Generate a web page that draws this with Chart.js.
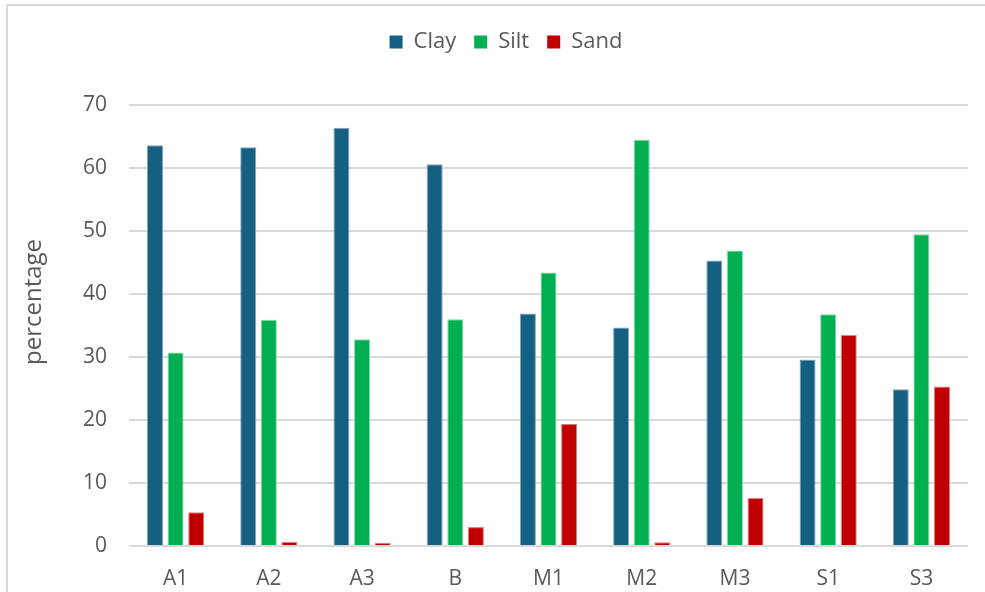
<!DOCTYPE html>
<html>
<head>
<meta charset="utf-8">
<script src="https://cdn.jsdelivr.net/npm/chart.js@4/dist/chart.umd.min.js"></script>
<style>
  html, body { margin: 0; padding: 0; background: #fff; overflow: hidden; }
  #frame {
    position: absolute; left: 6px; top: 4px;
    width: 1200px; height: 800px;
    border: 2px solid #d9d9d9; box-sizing: border-box;
  }
  #wrap { position: absolute; left: 0; top: 0; width: 985px; height: 592px; }
</style>
</head>
<body>
<div id="frame"></div>
<div id="wrap"><canvas id="chart" width="985" height="592"></canvas></div>
<script>
// Soil texture fractions per sample
const samples = ['A1', 'A2', 'A3', 'B', 'M1', 'M2', 'M3', 'S1', 'S3'];
const clay = [63.6, 63.3, 66.4, 60.6, 36.9, 34.7, 45.3, 29.6, 24.9];
const silt = [30.7, 35.9, 32.8, 36.0, 43.4, 64.5, 46.9, 36.8, 49.5];
const sand = [5.35, 0.65, 0.5, 3.0, 19.4, 0.6, 7.6, 33.5, 25.3];
const yTicks = [0, 10, 20, 30, 40, 50, 60, 70];
const yTitle = 'percentage';

const textColor = '#595959';
const fontFamily = '"Open Sans", Roboto, sans-serif';

function series(label, data, fill, edge) {
  return {
    label, data,
    backgroundColor: fill,
    borderColor: edge,
    borderWidth: 1,
    categoryPercentage: 0.663,
    barPercentage: 0.777
  };
}

// Fixed band for the legend, nudged right so it sits over the plot
const legendBand = {
  id: 'legendBand',
  afterInit(chart) {
    const lg = chart.legend;
    if (!lg) return;
    const fit = lg.fit.bind(lg);
    lg.fit = function () {
      fit();
      this.height = 92;
      if (this.minSize) this.minSize.height = 92;
    };
  },
  afterLayout(chart) {
    const lg = chart.legend;
    if (!lg) return;
    lg.left += 22;
    lg.right += 22;
  }
};

// Vertical axis title, drawn a little above the plot's middle
const axisTitle = {
  id: 'axisTitle',
  afterDraw(chart) {
    const ctx = chart.ctx;
    ctx.save();
    ctx.translate(34, 302);
    ctx.rotate(-Math.PI / 2);
    ctx.font = '24px ' + fontFamily;
    ctx.fillStyle = textColor;
    ctx.textAlign = 'center';
    ctx.textBaseline = 'middle';
    ctx.fillText(yTitle, 0, 0);
    ctx.restore();
  }
};

new Chart(document.getElementById('chart'), {
  type: 'bar',
  data: {
    labels: samples,
    datasets: [
      series('Clay', clay, '#156082', '#7fa6b9'),
      series('Silt', silt, '#00B050', '#7fd8a8'),
      series('Sand', sand, '#C00000', '#e08080')
    ]
  },
  plugins: [legendBand, axisTitle],
  options: {
    responsive: false,
    animation: false,
    devicePixelRatio: 1,
    layout: { padding: { left: 0, right: 17, top: 13, bottom: 0 } },
    plugins: {
      tooltip: { enabled: false },
      legend: {
        position: 'top',
        labels: {
          color: textColor,
          font: { family: fontFamily, size: 22 },
          boxWidth: 13,
          boxHeight: 13,
          padding: 18,
          generateLabels(chart) {
            return chart.data.datasets.map((ds, i) => ({
              text: ds.label,
              fillStyle: ds.backgroundColor,
              strokeStyle: ds.backgroundColor,
              lineWidth: 0,
              fontColor: textColor,
              datasetIndex: i,
              hidden: false
            }));
          }
        }
      }
    },
    scales: {
      x: {
        grid: { display: false },
        border: { display: false },
        ticks: {
          color: textColor,
          font: { family: fontFamily, size: 21 },
          padding: 12
        },
        afterFit(scale) { scale.height = 46; }
      },
      y: {
        min: 0,
        max: 70,
        afterBuildTicks(scale) { scale.ticks = yTicks.map(v => ({ value: v })); },
        grid: { color: '#d9d9d9', lineWidth: 2, drawTicks: false },
        border: { display: false },
        ticks: {
          color: textColor,
          font: { family: fontFamily, size: 21 },
          padding: 22
        },
        afterFit(scale) { scale.width = 129; }
      }
    }
  }
});
</script>
</body>
</html>
